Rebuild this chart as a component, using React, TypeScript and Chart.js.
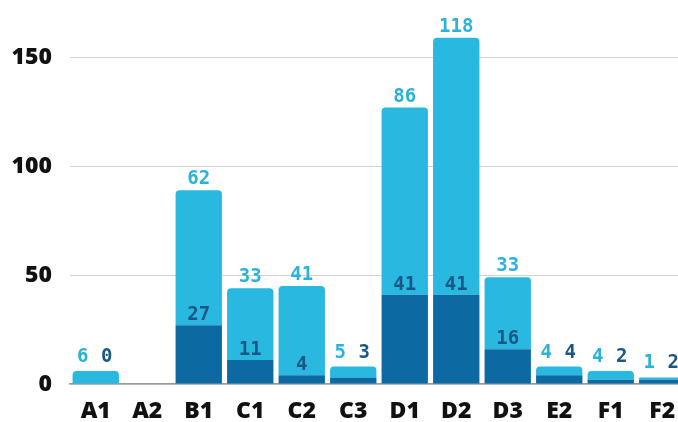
import React, { useEffect, useRef } from "react";
import { Chart, registerables } from "chart.js";

Chart.register(...registerables);

const categories = ["A1", "A2", "B1", "C1", "C2", "C3", "D1", "D2", "D3", "E2", "F1", "F2"];
const darkValues = [0, 0, 27, 11, 4, 3, 41, 41, 16, 4, 2, 2];
const lightValues = [6, 0, 62, 33, 41, 5, 86, 118, 33, 4, 4, 1];
const yTickValues = [0, 50, 100, 150];

const DARK = "#0d69a1";
const LIGHT = "#28b8e0";
const DARK_LABEL = "#1b5685";
const LIGHT_LABEL = "#2ab2da";
const AXIS_FONT = { family: "'Open Sans', Lato, sans-serif", size: 23, weight: 800 as any };

const labelPlugin = {
  id: "stackLabels",
  afterDatasetsDraw(chart: any) {
    const ctx = chart.ctx;
    const darkMeta = chart.getDatasetMeta(0);
    const lightMeta = chart.getDatasetMeta(1);
    ctx.save();
    ctx.font = "bold 19px 'DejaVu Sans Mono'";
    ctx.textAlign = "center";
    ctx.textBaseline = "alphabetic";
    categories.forEach((_, i) => {
      const d = darkValues[i];
      const l = lightValues[i];
      if (d === 0 && l === 0) return;
      const dEl = darkMeta.data[i];
      const lEl = lightMeta.data[i];
      const x = lEl.x;
      const top = lEl.y;
      const lightH = dEl.y - lEl.y;
      if (lightH < 24) {
        ctx.fillStyle = LIGHT_LABEL;
        ctx.fillText(String(l), x - 13, top - 9);
        ctx.fillStyle = DARK_LABEL;
        ctx.fillText(String(d), x + 11, top - 9);
      } else {
        ctx.fillStyle = LIGHT_LABEL;
        ctx.fillText(String(l), x, top - 6);
        ctx.fillStyle = DARK_LABEL;
        ctx.fillText(String(d), x, dEl.y - 5);
      }
    });
    ctx.restore();
  },
};

export default function App() {
  const ref = useRef<HTMLCanvasElement | null>(null);
  useEffect(() => {
    if (!ref.current) return;
    const chart = new Chart(ref.current, {
      type: "bar",
      data: {
        labels: categories,
        datasets: [
          {
            label: "dark",
            data: darkValues,
            backgroundColor: DARK,
            borderWidth: 0,
            borderRadius: 0,
            barPercentage: 0.9,
            categoryPercentage: 1,
          },
          {
            label: "light",
            data: lightValues,
            backgroundColor: LIGHT,
            borderWidth: 0,
            borderSkipped: "bottom",
            borderRadius: { topLeft: 4, topRight: 4, bottomLeft: 0, bottomRight: 0 },
            barPercentage: 0.9,
            categoryPercentage: 1,
          },
        ],
      },
      options: {
        responsive: false,
        animation: false,
        devicePixelRatio: 1,
        layout: { padding: { top: 3, left: 0, right: 0, bottom: 0 } },
        plugins: {
          legend: { display: false },
          tooltip: { enabled: false },
        },
        scales: {
          x: {
            stacked: true,
            grid: { display: false, drawTicks: false },
            border: { display: true, color: "#9a9a9a", width: 1.5 },
            ticks: {
              padding: 14,
              color: "#111",
              font: AXIS_FONT,
            },
            afterFit(scale: any) {
              scale.height = 38;
              scale.paddingLeft = 0;
              scale.paddingRight = 0;
            },
          },
          y: {
            stacked: true,
            min: 0,
            max: 175,
            border: { display: false },
            grid: { color: "#d2d2d2", lineWidth: 1, drawTicks: false },
            ticks: {
              stepSize: 50,
              padding: 18,
              color: "#111",
              font: AXIS_FONT,
            },
            afterBuildTicks(scale: any) {
              scale.ticks = yTickValues.map((v) => ({ value: v }));
            },
            afterFit(scale: any) {
              scale.width = 70;
              scale.paddingTop = 0;
              scale.paddingBottom = 0;
            },
          },
        },
      },
      plugins: [labelPlugin],
    });
    return () => chart.destroy();
  }, []);
  return (
    <div
      style={{
        position: "fixed",
        left: 0,
        top: 0,
        width: 678,
        height: 422,
        overflow: "hidden",
        background: "#fff",
      }}
    >
      <canvas ref={ref} width={688} height={422} style={{ display: "block" }} />
    </div>
  );
}
